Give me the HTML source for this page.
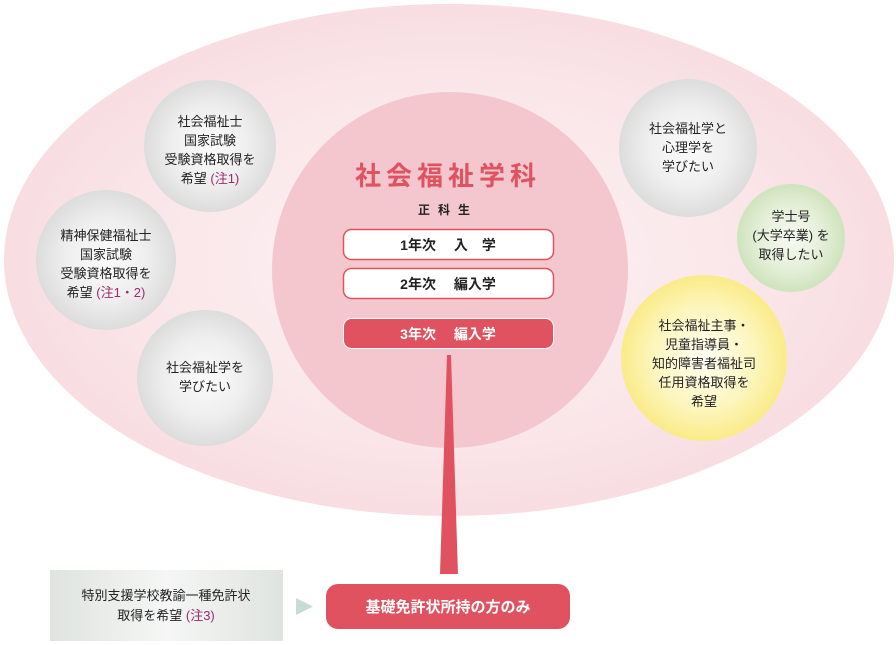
<!DOCTYPE html>
<html><head><meta charset="utf-8"><style>
html,body{margin:0;padding:0;background:#fff;}
svg{display:block;}
text{font-family:"Liberation Sans","Noto Sans CJK JP",sans-serif;font-size:13px;fill:#222;text-anchor:middle;}
.b{font-weight:bold;}
</style></head><body>
<svg width="896" height="645" viewBox="0 0 896 645" xmlns="http://www.w3.org/2000/svg">
<defs>
<radialGradient id="bg" cx="50%" cy="50%" r="50%">
<stop offset="0" stop-color="#fdf3f4"/><stop offset="0.7" stop-color="#fae6e9"/><stop offset="1" stop-color="#f8dde1"/>
</radialGradient>
<radialGradient id="gray" cx="50%" cy="50%" r="50%">
<stop offset="0" stop-color="#fbfbfb"/><stop offset="0.6" stop-color="#eeeeee"/><stop offset="1" stop-color="#dcdcdc"/>
</radialGradient>
<radialGradient id="green" cx="50%" cy="50%" r="50%">
<stop offset="0" stop-color="#f7faf2"/><stop offset="0.6" stop-color="#e4efd8"/><stop offset="1" stop-color="#cfe3bd"/>
</radialGradient>
<radialGradient id="yel" cx="50%" cy="50%" r="50%">
<stop offset="0" stop-color="#fffef4"/><stop offset="0.6" stop-color="#fdf6bf"/><stop offset="1" stop-color="#faeb88"/>
</radialGradient>
<linearGradient id="box" x1="0" y1="0" x2="1" y2="0">
<stop offset="0" stop-color="#dfe4e0"/><stop offset="0.5" stop-color="#f5f6f5"/><stop offset="1" stop-color="#dfe4e0"/>
</linearGradient>
</defs>
<ellipse cx="449" cy="260" rx="445" ry="256" fill="url(#bg)"/>
<circle cx="450" cy="270" r="178" fill="#f3c7cd"/>
<circle cx="210" cy="146" r="66" fill="url(#gray)"/>
<circle cx="106" cy="260" r="70" fill="url(#gray)"/>
<circle cx="205" cy="378" r="68" fill="url(#gray)"/>
<circle cx="688" cy="148" r="69" fill="url(#gray)"/>
<circle cx="791" cy="238" r="54" fill="url(#green)"/>
<circle cx="704" cy="358" r="83" fill="url(#yel)"/>

<text x="448" y="185" class="b" style="font-size:26px;fill:#e0525f;letter-spacing:5px">社会福祉学科</text>
<text x="448" y="214" class="b" style="font-size:12px;fill:#222;letter-spacing:8px">正科生</text>

<rect x="343.5" y="229.5" width="210" height="30" rx="8" fill="#fff" stroke="#e0525f" stroke-width="1.5"/>
<text x="448" y="250" class="b" style="font-size:14px">1年次　 入　学</text>
<rect x="343.5" y="268.5" width="210" height="30" rx="8" fill="#fff" stroke="#e0525f" stroke-width="1.5"/>
<text x="448" y="289" class="b" style="font-size:14px">2年次　 編入学</text>
<rect x="343.5" y="318.5" width="210" height="30" rx="8" fill="#e0525f" stroke="#fff" stroke-width="1"/>
<text x="448" y="339" class="b" style="font-size:14px;fill:#fff">3年次　 編入学</text>

<polygon points="447,355 451,355 458,574 440,574" fill="#e0525f"/>

<text x="210" y="126">社会福祉士</text>
<text x="210" y="145">国家試験</text>
<text x="210" y="164">受験資格取得を</text>
<text x="210" y="183">希望 <tspan fill="#a0286e">(注1)</tspan></text>

<text x="106" y="240">精神保健福祉士</text>
<text x="106" y="259">国家試験</text>
<text x="106" y="278">受験資格取得を</text>
<text x="106" y="297">希望 <tspan fill="#a0286e">(注1・2)</tspan></text>

<text x="205" y="372">社会福祉学を</text>
<text x="205" y="391">学びたい</text>

<text x="688" y="133">社会福祉学と</text>
<text x="688" y="152">心理学を</text>
<text x="688" y="171">学びたい</text>

<text x="791" y="221">学士号</text>
<text x="791" y="240">(大学卒業) を</text>
<text x="791" y="259">取得したい</text>

<text x="704" y="330">社会福祉主事・</text>
<text x="704" y="349">児童指導員・</text>
<text x="704" y="368">知的障害者福祉司</text>
<text x="704" y="387">任用資格取得を</text>
<text x="704" y="406">希望</text>

<rect x="50" y="570" width="233" height="71" fill="url(#box)"/>
<text x="166" y="600">特別支援学校教諭一種免許状</text>
<text x="166" y="620">取得を希望 <tspan fill="#a0286e">(注3)</tspan></text>
<polygon points="296,598 313,606.5 296,615" fill="#c8dcd4"/>
<rect x="326" y="584" width="244" height="45" rx="12" fill="#e0525f"/>
<text x="448" y="612" class="b" style="font-size:15px;fill:#fff">基礎免許状所持の方のみ</text>
</svg>
</body></html>
